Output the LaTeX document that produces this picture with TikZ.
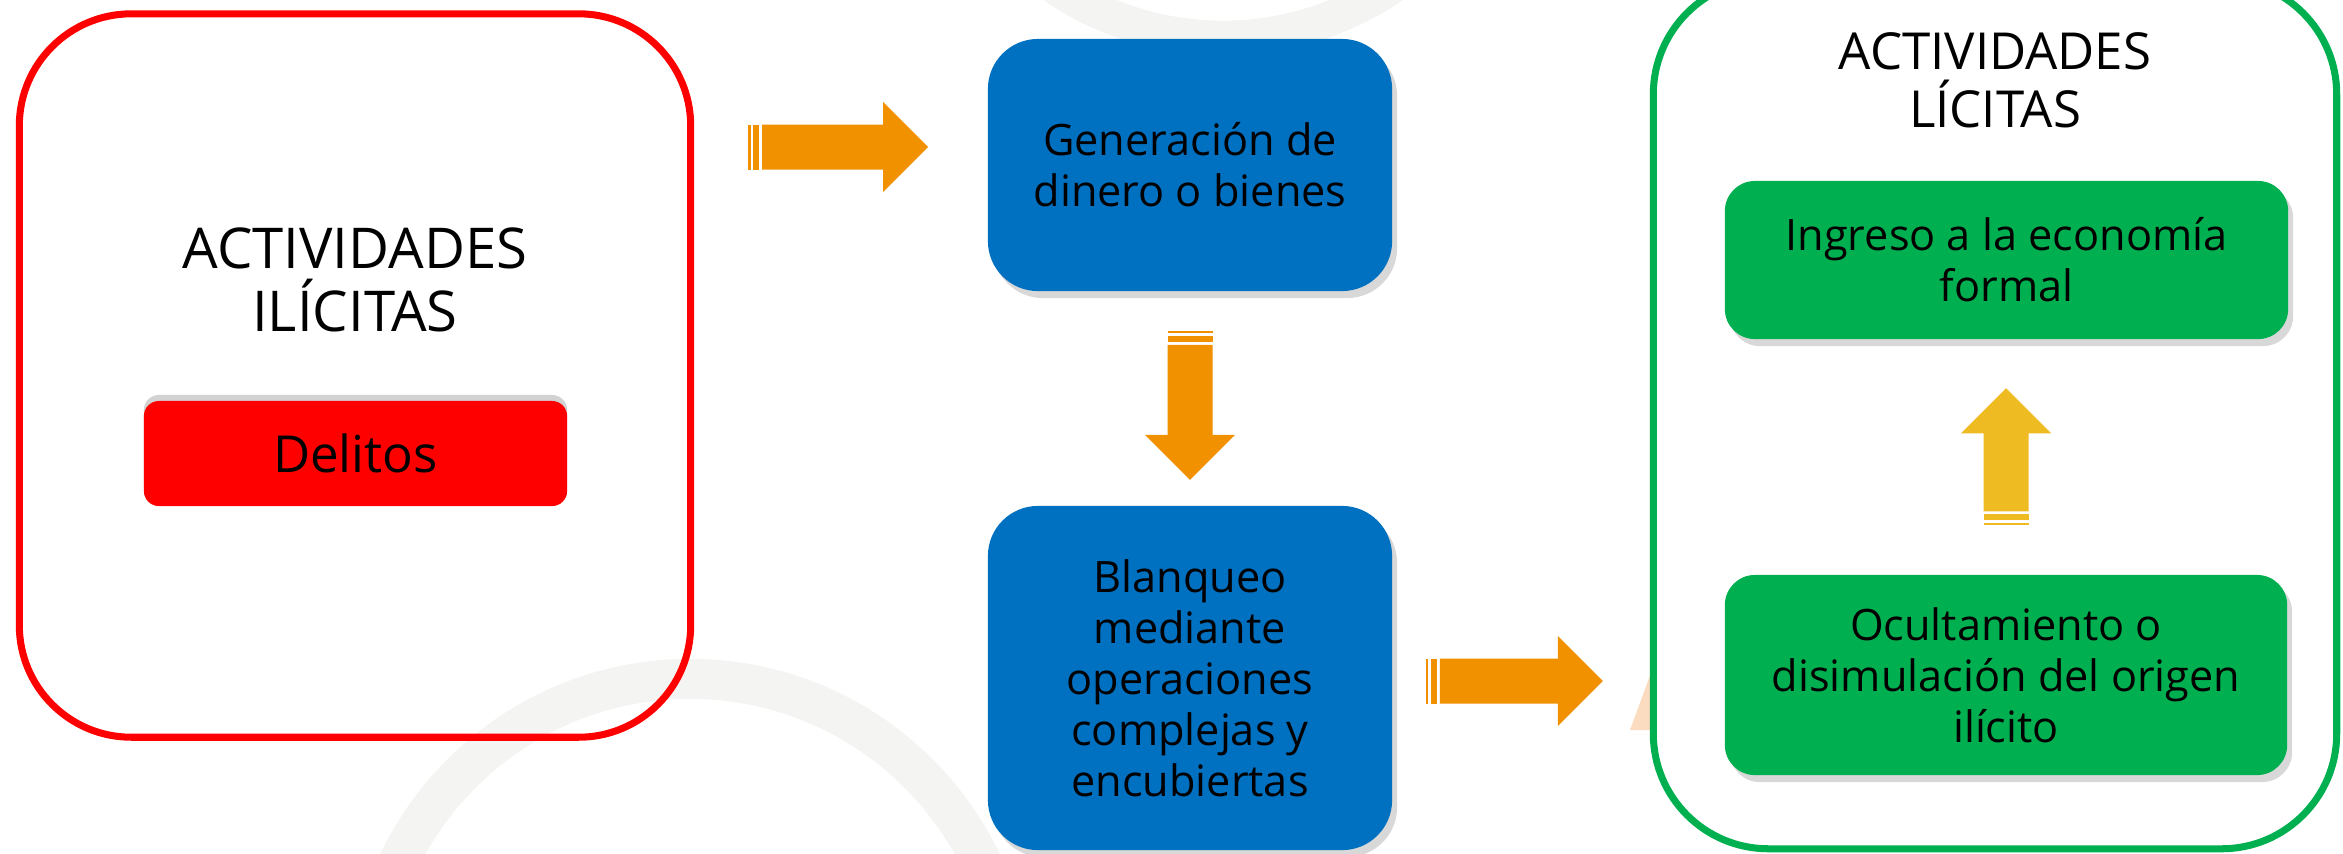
\documentclass[tikz,border=0pt]{standalone}
\usepackage{fontspec}
\setmainfont{Open Sans}
\usetikzlibrary{shadows,calc,positioning}
\definecolor{rojo}{HTML}{FF0000}
\definecolor{azul}{HTML}{0070C0}
\definecolor{verde}{HTML}{00B050}
\definecolor{naranja}{HTML}{F29100}
\definecolor{dorado}{HTML}{EFBB22}
\definecolor{anillo}{HTML}{F4F4F2}
\definecolor{melocoton}{HTML}{FBDCC0}
\begin{document}
\begin{tikzpicture}[x=0.01cm,y=-0.01cm,
	marco/.style={draw=#1,line width=2pt,rounded corners=1.12cm},
	caja/.style={fill=#1,align=center,font=\fontsize{12.3}{14.5}\selectfont,drop shadow={opacity=0.3,shadow xshift=0.5mm,shadow yshift=-0.7mm}},
	pics/flecha/.style={code={
		\fill (0,-22.5) rectangle (2.5,22.5);
		\fill (5,-22.5) rectangle (11,22.5);
		\fill (14,-22.5) -- (#1-45,-22.5) -- (#1-45,-45) -- (#1,0) -- (#1-45,45) -- (#1-45,22.5) -- (14,22.5) -- cycle;
	}}]
	\useasboundingbox[fill=white] (0,0) rectangle (2343,853);
	\draw[anillo,line width=0.4cm] (690,1002) circle (3.23cm);
	\draw[anillo,line width=0.35cm] (1223,-262) circle (3cm);
	\fill[melocoton] (1630,730) -- (1652,730) -- (1652,670) -- cycle;

	\node[marco=rojo,minimum width=6.71cm,minimum height=7.23cm] (ilicitas) at (355,375.5) {};
	\node[align=center,font=\fontsize{16}{18}\selectfont] (tituloilicitas) at (355,280) {ACTIVIDADES\\ILÍCITAS};
	\node[fill=rojo,rounded corners=0.15cm,minimum width=4.23cm,minimum height=1.05cm,font=\fontsize{14.5}{17}\selectfont,drop shadow={opacity=0.35,shadow xshift=0mm,shadow yshift=0.6mm}] (delitos) at (355.5,453.5) {Delitos};

	\node[caja=azul,rounded corners=0.5cm,minimum width=4.04cm,minimum height=2.52cm] (generacion) at (1190,165) {Generación de\\dinero o bienes};
	\node[caja=azul,rounded corners=0.5cm,minimum width=4.04cm,minimum height=3.44cm] (blanqueo) at (1190,678) {Blanqueo\\mediante\\operaciones\\complejas y\\encubiertas};

	\node[marco=verde,fill=white,rounded corners=1.15cm,minimum width=6.83cm,minimum height=8.69cm] (licitas) at (1995,414) {};
	\node[align=center,font=\fontsize{14.5}{16.5}\selectfont] (titulolicitas) at (1995,80) {ACTIVIDADES\\LÍCITAS};
	\node[caja=verde,rounded corners=0.3cm,minimum width=5.63cm,minimum height=1.58cm] (ingreso) at (2006.5,260) {Ingreso a la economía\\formal};
	\node[caja=verde,rounded corners=0.3cm,minimum width=5.62cm,minimum height=2cm] (ocultamiento) at (2006,675) {Ocultamiento o\\disimulación del origen\\ilícito};

	\pic[naranja] at ($(generacion.west)+(-239,-18)$) {flecha=180};
	\pic[naranja,rotate=-90] at ($(generacion.south)+(0,39)$) {flecha=149};
	\pic[naranja] at ($(blanqueo.east)+(33,3)$) {flecha=177};
	\pic[dorado,rotate=90] at ($(ocultamiento.north)+(0,-49)$) {flecha=137};
\end{tikzpicture}
\end{document}
